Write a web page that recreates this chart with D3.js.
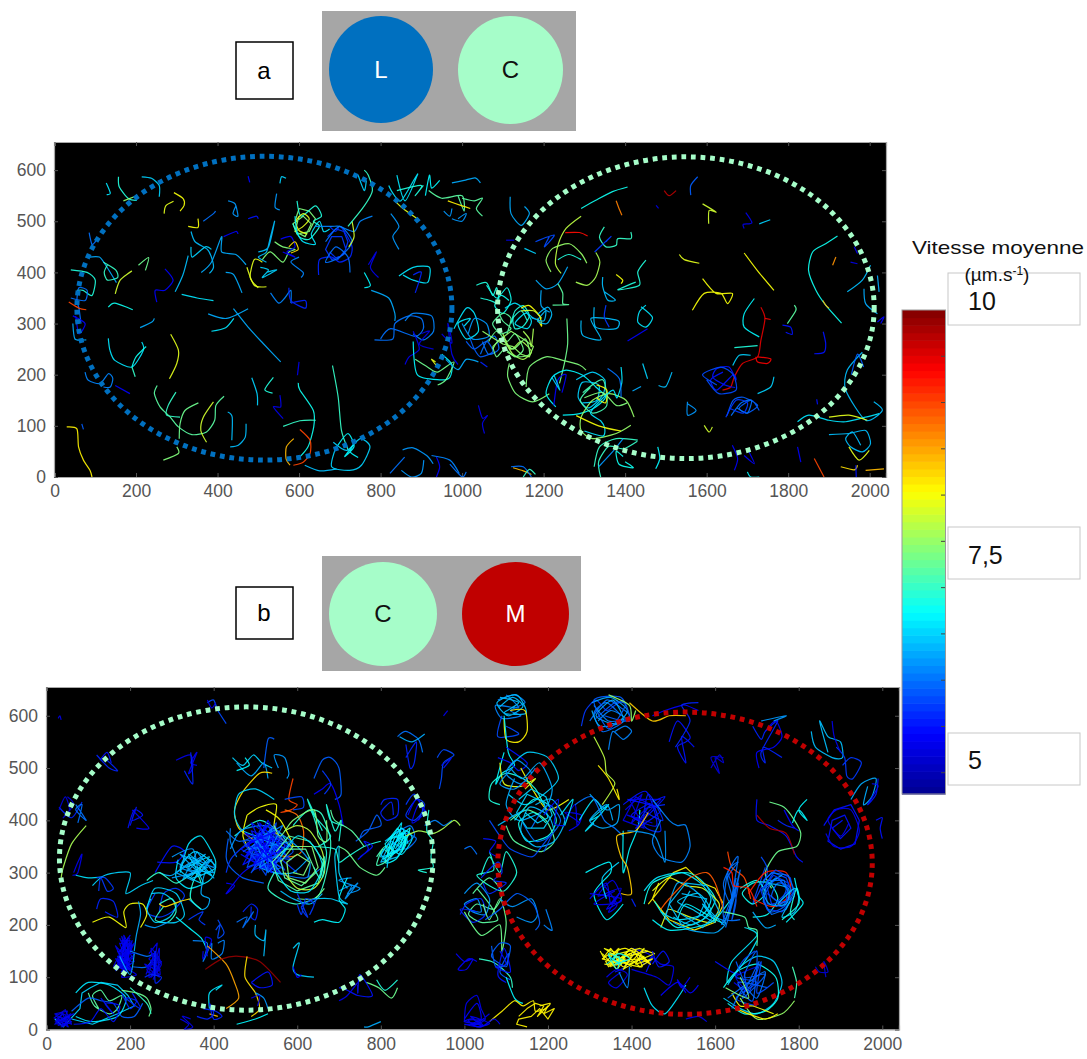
<!DOCTYPE html>
<html><head><meta charset="utf-8">
<script src="https://cdn.jsdelivr.net/npm/d3@7/dist/d3.min.js"></script>
<style>html,body{margin:0;background:#fff}svg{display:block}text{font-family:"Liberation Sans",Arial,sans-serif}</style>
</head><body><svg id="c" width="1087" height="1059"></svg>
<script>
const xTicks=[0,200,400,600,800,1000,1200,1400,1600,1800,2000];
const yTicks=[0,100,200,300,400,500,600];
const barTicks=[5,5.5,6,6.5,7,7.5,8,8.5,9,9.5];
const jetValues=[4.77,5.42,6.73,8.04,9.35,10];
const jetColors=["#00008f","#0000ff","#00ffff","#ffff00","#ff0000","#800000"];
const ellipsesA=[{cx:515,cy:330,rx:460,ry:297,color:"#0070c0"},{cx:1549,cy:331,rx:462,ry:295,color:"#a6fdc9"}];
const ellipsesB=[{cx:478,cy:327,rx:447,ry:290,color:"#a6fdc9"},{cx:1528,cy:318,rx:448,ry:289,color:"#c00000"}];
// each track: mean speed, then x,y pairs in micrometres
const tracksA=[
[8.1,30,98,55,94,59,59,71,33,87,13,92,0],[5.9,67,104,71,93],[6.6,132,271,136,248,148,228,190,215,218,248,214,264],[7,190,215,198,196],[6.8,190,215,200,235,225,255],
[7.9,285,279,304,248,300,222,282,192],[6.3,439,329,475,293,512,261,555,225],[6.3,377,319,422,310,475,329],[6.6,385,285,420,292,440,310],[6.4,328,433,315,395,296,362],[6.6,312,357,350,350,390,345],
[6.8,132,332,148,340,192,327],[6.3,210,292,239,303,245,310],[7.8,149,358,161,385,190,403],[7.3,206,414,231,429,223,404],[5.4,271,407,291,385,271,365,247,365,251,342],
[6.9,40,405,80,400,100,385,92,355,70,365,55,365],[6.3,85,430,110,430,125,415,152,380],[7,120,420,150,405,155,390,130,385,122,400,130,415],[6,40,350,75,345,80,365,60,370,55,345,60,330,65,300],
[9,35,342,60,330,78,327],[5.4,45,315,75,300,60,280,52,315],[6.3,45,300,50,270,70,268,78,268],[6,85,478,92,455,102,462],[6.1,75,205,83,189,112,183,132,202,143,193,137,176,120,176],[5.4,149,179,185,163],
[7.2,252,179,245,163,259,137,284,117,304,98,337,83,373,88,393,111,396,140,416,158],[7,298,166,279,140,275,121,308,117],[7.3,353,145,320,130,308,104,306,75],[7.8,390,147,365,117,359,91,373,68],[6.4,425,127,436,117,435,72],[6.4,470,104,468,78,451,62,431,59],[7.4,267,33,304,46,300,59],
[6.5,484,194,497,163,498,140],[6.9,537,195,516,171,535,164],[5.3,553,160,555,137,537,137,561,114],[5.3,600,225,596,199],[6.8,598,184,602,170,635,130,636,98,622,59,598,36],[7,561,99,602,110,641,111],[9,602,93,627,72,627,46,610,29,586,23],[8.4,587,75,569,59,568,36,578,23],[6.4,614,23,651,12,692,16],
[7,682,218,696,156,704,91,721,52],[6.5,691,59,680,20,724,13,753,23,774,59,750,75,717,52,684,68],[6.7,695,62,720,85,735,60,712,40,740,70,725,50,745,38],[6.2,854,53,880,57,913,42,929,26],[6,823,7,859,39],[6.2,851,13,876,0,900,7,906,33],[6.1,925,42,970,33,993,7],[5.4,937,39,945,20,937,0],
[6.6,127,575,137,555,128,552],[6.9,157,587,159,567,182,544,202,541],[7.5,169,540,202,550],[6.5,214,587,238,584,257,570,257,548],[7.9,269,515,273,530,292,539],[8,293,556,316,544,318,531,308,520],[5.4,475,588,479,576],[6.5,553,574,557,587,568,584],[6.2,545,554,541,528,553,522],[6.2,426,540,443,534,450,510,438,515,445,530],
[5.5,475,505,495,510,500,505],[6,365,500,390,515,395,520],[8,328,490,352,488,352,505],[6.4,335,480,345,460,375,445,385,430,390,410,380,398],[6.5,335,450,338,430,370,450,385,445],[6.3,360,400,385,420,410,470,410,440,445,435,470,415],[5.4,415,470,445,480,450,475],[6.3,420,400,440,395,460,360],
[6.4,500,440,525,450,540,500,530,470,520,440,500,430,520,420],[7.4,510,425,530,440,560,420,575,440,590,445,560,450,540,460],[7.9,472,410,490,375,520,372],[7.9,510,420,490,425,480,390,500,370],[6.5,505,410,525,405,510,390,545,405,520,400],[6.1,530,360,550,340,565,350,580,365,580,340],[5.6,575,370,580,345,615,330,615,345,580,340],
[7.4,590,500,600,525,625,520,640,505,625,480,595,475,585,495,610,510,630,495,615,470,590,480,600,510],[6.9,595,540,605,510,640,530,655,510,635,500,650,490,625,465,600,470,585,495],[7.9,590,480,610,490,625,505,610,515,592,500,600,482,620,475],[6.6,590,510,595,480,610,460,640,455,630,475,650,500,660,480,675,485],[5.4,555,465,580,470,590,450,570,440,590,430,560,440],[8.2,575,450,590,460,598,445,580,438],
[5.7,670,470,690,485,710,480,720,460,710,435,680,425,665,445,680,470,705,470,715,445,695,425,675,440],[5.6,675,490,690,480,700,490,715,475,730,450,725,430,700,420,680,430,650,425,648,395],[6,665,460,700,490,730,460,700,430,665,420,690,450,720,430,725,400],[6.1,640,490,680,490,700,490,735,480,750,500,780,510],[7.8,730,500,735,470,722,450],[6.1,600,430,580,420,610,400,605,390],[7,720,490,760,530,780,560,770,590,760,600],
[6.5,745,590,760,560,765,580],[7.9,835,540,855,525,890,505],[6.6,820,570,830,555,850,540,885,585,890,590,860,540,840,590],[6.9,840,560,900,570,885,550,905,570],[6.7,910,550,920,590,925,565,945,580],[7.2,918,560,950,545,1000,550,1005,520,990,550],[6.3,975,575,1005,580,1032,585,1045,575],[8.1,965,540,1000,530,1020,525],[7.2,1000,545,1030,540,1050,545,1035,525,1050,510],
[6.2,955,520,970,510,975,525],[6.2,975,505,1000,500,1010,515,990,505],[6.2,825,515,845,490,830,470,845,445],[5.3,770,415,790,440,775,410,795,390],[6.7,760,400,775,375,760,370],[6.6,845,393,880,410,920,410,915,380,880,385,855,395],[5.6,880,395,900,400,885,360],[6.3,777,365,820,350,835,320,835,305],[6,785,268,830,270,835,300,870,315,900,310,905,290,885,275,825,290,800,270],
[6.1,860,305,880,320,925,315,930,285,905,268,880,280],[5.3,880,285,895,250,870,235,860,220],[6.7,880,265,890,200,945,190,970,195,975,220,950,240],[7.3,885,230,915,215,940,205,980,225,960,190,940,180],[5.2,900,280,920,285,895,260,930,250],[7.9,935,225,925,230,940,215],[5.3,950,280,975,262,965,300,975,240,990,220],[6.3,960,230,990,210,1010,230,1040,225],[5.6,1045,225,1062,215],[5.3,1040,140,1050,115,1062,120,1050,105,1055,85],
[6.6,980,290,1010,330,1030,320,1040,285,1010,270,990,300,1020,310,1005,295],[6.2,1000,300,1025,270,1065,275,1060,300,1030,310,1015,280],[5.9,1010,265,1030,250,1060,265,1075,245,1045,235,1030,250,1020,270],[6,1045,240,1060,265,1080,275,1090,250,1065,240,1050,265],
[6.9,1035,375,1060,380,1075,355,1085,370,1090,340,1070,345,1045,350],[6.8,1060,375,1085,350,1110,370,1120,345,1100,320,1080,335,1095,355,1115,345],[7.2,1085,330,1100,305,1120,290,1095,280,1075,300,1100,320,1120,310,1110,280],
[7.5,1050,285,1080,270,1100,260,1125,255,1145,240,1165,235,1175,255,1150,270,1120,285,1095,270,1075,255],[7.3,1065,265,1085,285,1110,265,1130,280,1150,250,1130,235,1105,250,1085,235,1075,255],[7.6,1100,280,1120,250,1145,265,1170,245,1150,230,1125,240,1105,265],[7.4,1075,250,1095,270,1125,250,1155,270,1165,240,1135,235,1110,245],
[6.9,1120,300,1130,325,1150,335,1165,315,1150,295,1130,290,1125,310,1145,325,1160,305],[6.6,1105,330,1130,340,1155,325,1170,305,1160,290,1130,300,1155,320,1175,310],[8,1145,330,1165,335,1190,315,1195,295,1185,310],[7.6,1150,285,1165,270,1170,255,1175,290],
[6.3,1118,548,1120,515,1145,492,1165,515,1153,529],[5.2,1108,463,1128,463],[6.5,1153,447,1181,437],[5.8,1180,460,1226,473,1202,450,1214,470],[6.8,1292,525,1328,541,1369,558,1406,567],[8.7,1378,540,1384,527,1392,512],[9.3,1253,478,1288,478,1308,471],[7.7,1292,510,1255,486,1235,453,1229,417,1243,398],[7.5,1218,401,1206,424,1222,447,1263,456,1292,437,1306,418],[7.6,1279,381,1308,375,1328,391,1338,420,1328,439],
[6.9,1235,425,1262,435,1292,425],[6.3,1181,385,1206,368,1235,378,1259,411],[6.3,1194,365,1194,335,1215,322],[7.2,1235,378,1247,359,1247,339,1261,337,1222,336],[7.3,1257,310,1259,261,1251,222,1239,183],[6.4,1185,318,1210,332,1220,318,1208,300,1185,305,1205,325,1200,305,1170,312],[7.8,1145,325,1175,325,1195,310],
[7.4,1116,222,1112,196,1132,163,1173,147,1214,163],[7.4,1157,176,1165,215,1206,235,1247,228,1288,219,1304,209],[6.7,1230,137,1206,163,1222,196,1255,209,1296,199,1328,176,1352,157,1328,137,1288,124,1247,121],[6.5,1280,190,1320,205,1350,190,1345,160,1310,135,1285,155,1295,185,1335,180,1330,150,1295,145],[7.5,1422,117,1402,150,1361,163,1320,150,1292,117,1292,91,1320,75,1378,85,1414,101],[7.1,1296,165,1345,190,1355,140,1320,125,1290,150,1315,175],[5.4,1225,140,1235,190,1255,200,1245,165],[8,1330,180,1355,170,1352,145,1330,155],[7.4,1300,155,1345,165,1378,140,1405,145],
[6.6,1390,215,1392,185,1380,155,1370,170,1340,150,1315,125,1340,110,1350,95,1345,80,1300,90],[7,1324,20,1337,59,1378,75,1431,72],[7,1340,0,1335,30,1360,60,1395,55,1430,70],[6.8,1395,40,1378,50,1385,25,1420,18,1400,30],[6.2,1335,20,1370,50,1395,75],[8,1280,120,1335,100,1390,90],[6.5,1220,195,1240,170,1225,200],[6,1357,212,1386,192,1390,156],
[7.9,1533,435,1545,425,1582,418],[8,1692,438,1725,403,1765,365],[8,1590,388,1623,359,1663,359,1651,339,1635,359,1594,359,1565,326],[6.7,1717,349,1692,319,1692,293,1729,274],[7.2,1815,336,1819,326,1798,300],[5.5,1786,297,1806,293,1810,279,1794,283],[5.5,1864,241,1888,244,1892,261,1886,284],[6.9,1668,253,1725,257],[6.5,1664,218,1680,238,1708,238],
[9.5,1733,332,1743,310,1733,267,1725,235,1688,222,1668,196,1659,176,1639,170],[9.4,1725,235,1757,231,1749,222,1725,225,1721,235],[9.4,1757,308,1743,310],
[5.5,1640,205,1610,190,1625,170,1665,200,1672,190,1655,215,1625,212,1615,195,1645,180,1670,175],[5.8,1600,190,1630,163,1672,170,1665,200,1635,215,1590,200,1625,180],[5.9,1650,120,1665,150,1690,156,1725,140,1700,125,1680,135,1710,150,1729,130],[6,1660,120,1685,145,1710,150,1700,125,1675,135],[5.7,1647,117,1672,150,1700,145,1690,125,1655,135],[6.5,1725,163,1757,176,1765,196],
[6.2,1553,147,1553,121,1574,130,1553,143],[7.8,1594,101,1606,88,1614,98],[5.9,1561,551,1561,570,1578,587],[7.8,1590,534,1623,518,1606,521,1605,495],[5.3,1696,517,1711,497,1690,494,1692,486],[6.5,1729,495,1756,503],[9.7,1496,560,1508,550,1525,560],[5.3,1476,531,1482,525],
[6.8,1921,471,1892,456,1860,440,1850,404,1868,365,1892,336,1931,301],[8.6,1917,430,1909,414],[8.4,1885,345,1892,336,1900,330],[6.9,1451,424,1431,401,1435,375,1382,366,1426,381],[8,1378,396,1394,385,1390,378],[6.4,1345,391,1345,372,1357,346,1376,346,1349,362],[6.6,1439,333,1467,312,1451,293,1431,303,1435,323,1451,336],[7,1349,489,1337,469,1353,450,1378,453,1382,466,1414,466,1414,479],[5.7,1325,440,1365,470,1353,460],[6.4,1292,306,1296,277,1341,269,1316,310,1382,306,1378,290,1328,293,1324,332],[5.7,1353,336,1349,313,1361,293],[5.4,1406,266,1455,290],[6.5,1443,222,1455,192],[6.3,1418,168,1439,177],[6.4,1482,179,1500,177,1515,205],
[6.4,2010,147,2031,130,1990,111,1941,170,1945,209,1982,244],[6.6,1823,108,1851,121,1900,111,1941,108,1990,117,2023,124],[7.9,1900,117,1949,121,1994,111],[6.4,1900,83,1949,85,1990,91,2002,65,1982,49,1953,59,1941,75,1958,88,1978,62],[7.9,1949,59,1974,33,1999,52],[8.2,1929,20,1962,14,1970,23],[8.4,1990,13,2035,16],[5.5,1966,23,1967,0],[9,1864,36,1888,0],[5.4,1823,59,1831,29],[5.4,1663,62,1676,36,1668,13],[5.4,1692,42,1717,26,1704,49],[6.7,1700,10,1708,0,1729,0],[6.7,1475,16,1485,36,1480,59],
[6.3,2019,394,2023,362],[6.4,2002,414,1982,385,1945,362],[6.3,1986,368,1990,339,2019,319],[5.4,2019,303,2035,313,2027,300],[5.4,1962,450,1970,437],[5.3,1953,420,1970,417],[5.5,1870,152,1872,142],[5.9,1955,200,1970,240,1985,215],
[8.4,1125,18,1150,12,1170,5],[6,1120,20,1150,20,1170,0],[7,1150,0,1165,15,1180,5],[6,970,25,1000,0,1010,10]
];
const tracksB=[
[5.3,28,595,32,600,35,592],[5.8,385,625,400,630,410,610,430,585],[5.3,385,630,395,615,405,625],[5.6,120,525,150,500,170,495,145,515],[5.5,128,515,145,530,155,510],[5.3,310,515,345,525,350,500,340,490,360,530,345,510,360,505],[5.6,330,495,350,470,345,530],
[5.6,30,425,60,405,85,435],[5.2,30,420,45,445,55,420,40,405,65,430,50,445],[6,70,430,95,400,70,420,85,430,75,395],[5.5,195,385,210,420,230,410,205,400,215,425,200,390],[5.4,205,420,245,385,215,385],[7.6,95,390,60,355,40,310,35,290],[5.3,65,300,75,320,85,335,75,300,62,295],[6.6,70,295,100,290,135,292],
[6.5,445,520,470,505,495,525,515,510,540,500],[6.3,455,510,490,485,520,510,530,480],[6.7,455,495,485,505,475,520],[5.9,520,500,530,555,545,555],[6.2,555,500,545,525,570,520,580,490,575,480],[5.9,640,480,660,515,680,520,700,500,705,450,690,440],[5.4,640,450,660,460,680,470,700,430,710,390],[5.7,660,495,680,470,665,450],
[8.2,540,490,510,490,470,455,450,420,460,385,500,360],[6.5,545,440,500,460,460,450,450,410,470,380,530,365,535,380],[8,480,410,510,425,550,430,545,380,590,350,560,400,525,420],[8,480,410,470,370,490,340],[6.9,450,370,510,400,560,375,580,350],[9,590,480,580,440,600,430,585,420,560,415],[8.8,570,420,600,410,615,380,610,340,580,330,530,340],[5.8,570,440,610,445,615,425,590,420],
[6.1,440,385,440,360,455,330],[6,430,380,460,360,500,370],[5.9,435,365,430,330,440,310,470,290,520,280],[5.7,430,300,445,330,500,365,540,340,600,300],[6.2,440,345,465,380,520,390,560,375,600,350,630,320,625,290],[5.4,430,280,450,275,430,260,470,300,505,315,560,300],
[5.3,490,345,530,350,480,320,540,370,510,305,535,385,560,320,500,375,555,345,485,325,545,310,520,380,490,360,555,365,480,340,540,320],[5.6,500,350,560,340,520,310,510,380,570,360,490,330,530,390,550,300,505,330,570,340],[5.8,500,320,570,350,530,370,500,340,560,310,530,310,590,340,550,370],[6,500,320,530,305,570,295,620,290,660,310],[6.3,510,310,545,300,590,300,630,330],
[5.5,530,345,480,350,535,395,475,330,550,385,465,345,545,305,490,395,560,355,470,315,530,400,575,330,495,305,520,345,580,350,490,380,540,300,465,335],[5.8,525,350,490,300,565,370,470,360,525,295,550,395,495,335,585,325,510,375,480,310,555,335,505,395,570,305,490,350,540,375,470,340],[6.1,515,340,560,300,495,370,575,345,510,310,540,385,485,345,590,360,530,300,500,360,565,390,520,320],[5.4,540,330,505,365,555,380,480,355,530,320,510,395,565,345,495,315,535,360,475,375,550,315],
[7.2,550,340,580,370,630,360,665,320,650,280,600,265,555,285,540,320,570,345,620,345,645,300,610,275,570,290,560,325],[7.4,560,320,590,350,635,350,650,310,620,280,580,290,575,320,600,335,630,320,615,295,590,300],[7.7,570,300,600,270,640,270,665,300,660,340,630,380,600,390,570,380],[7,545,300,530,270,560,250,600,240,650,255,670,300,680,360,660,410,640,420],[6.9,590,390,630,420,650,380,670,340,660,290],[7.3,600,250,640,250,665,270],[6.4,560,265,590,250,630,240,660,260],[6.6,560,330,600,370,640,350,660,310,630,265,585,265,550,300],[6.9,650,350,680,370,640,410,625,440,660,380],[7,640,310,655,290,665,330,655,300],
[7.4,545,390,560,370,590,400,640,420,650,370,670,360,670,400],[5.7,600,240,610,220,620,250,640,240,630,220,645,250,610,235,625,215,600,260],[6.5,640,250,680,250,720,240,700,255,690,330,700,350,700,300,720,270],[6.2,700,265,730,275,715,250,745,280,720,260,750,270,700,285,730,290],[6.9,640,350,690,345,700,320,720,330,760,350,800,360],[7.3,700,350,720,340,750,310,790,295,810,310],[6.7,720,290,700,250,715,230,700,205,660,210,640,205],[6.9,700,360,705,400,690,380,670,430,680,400,710,390],
[5.9,740,360,770,380,790,410,800,390,760,380,750,365],[7.2,680,420,690,400,730,380,760,350],[5.5,750,330,780,350,760,360,770,345,745,325],[5.6,800,430,810,440,840,440,840,410,815,400,800,415,825,435,830,410],[6,835,375,870,390,880,370,850,350,825,340,850,375,885,365,860,345,825,360],[6.4,810,360,850,385,870,375,845,350,815,320,800,335,830,370,860,360,840,330,800,320,815,345,845,365],[6.7,805,325,830,345,845,375,860,355,835,325,810,320,830,360],[7.1,790,330,810,350,830,340,810,320,790,315,805,345,825,330],[6.6,830,370,850,395,840,360,855,380,825,345],[6.8,840,350,860,370,850,340,870,385,845,365],[6.5,820,345,815,310,820,355,800,330,850,345],[6.7,815,360,840,385,860,365,840,340,815,330,825,365,855,375,845,345,820,335,810,355,835,375],[6.6,835,345,860,380,875,365,850,335,825,350,850,385,865,355],[5.7,860,430,880,450,900,420,880,400,860,410,885,440,905,430,890,400],[5.4,865,410,885,440,905,415,875,395,890,430,910,415],[6.1,905,390,930,400,950,390,970,400],
[7.6,860,370,890,380,925,375,950,385,975,400,990,390],[6.9,915,420,910,380,925,360,920,330,925,310,890,305,910,300],[6,840,560,860,570,890,555,900,530],[5.6,860,545,870,500,880,510,885,550,860,520],[5.8,935,520,950,535,975,525,950,510,945,480,940,460],[5.5,945,505,970,520,950,500],[5.3,950,600,960,610],[6.3,845,560,875,550,905,565],[7.3,765,90,795,80,825,60,840,80],
[6.5,110,275,140,295,200,300,190,260,225,275,255,285],[5.7,120,290,140,290,160,270,145,265,130,290,125,265],[5.5,260,300,300,350,330,340,310,320,265,320],[6.6,320,300,340,355,370,370,395,340,405,320,400,295,380,280,340,270,310,290,315,325],[6.2,300,330,350,345,365,300,390,325,400,310,340,330,320,310,350,300,300,290],[6.3,270,300,300,295,350,320,400,290,380,300,370,260,390,250,385,235,370,230,340,250],[7,240,285,270,300,310,280,355,300,370,280],[6.9,370,310,350,280,345,250,370,230],
[6.3,310,320,370,295,320,335,385,310,330,290,395,325,350,285,310,300,380,335,340,305,400,300,360,340,325,285],[6.5,335,310,390,330,345,290,405,310,355,340,320,305,375,280,340,335,395,295,350,315],
[5.7,270,225,280,260,310,270,330,255,300,225,270,215,240,225,260,260],[6.5,250,260,280,260,310,240,295,215,260,205,240,230,250,250],[7,270,240,300,250,310,225,290,205,260,210,280,235],[6.5,240,230,260,270,310,260,330,220,310,205,270,205],[8,110,205,150,215,190,195,185,225,200,240,230,240,240,220,225,195],[8.2,270,240,285,235,320,245,345,250],[6.3,220,245,225,220,215,180,210,150],[6.7,310,215,340,195,370,175,385,150],[5.6,120,230,130,250,160,245,170,215,140,225],[6.2,235,200,260,195,290,205],
[5.4,195,145,180,170,200,170,185,120,195,155,175,135,205,150,185,180,195,115,170,140,200,125,178,110],[5.2,175,150,200,165,185,130,205,140,180,120,195,110,170,125,200,175],[5.3,160,120,195,175,170,115,205,160,175,165,195,125,165,135,210,130,180,178,200,112,170,150,210,145,185,110],[5.3,175,175,200,130,165,160,190,115,205,170,172,125,200,150,180,140,210,165,185,125,165,112],[5.4,185,160,200,180,175,145,205,115,170,130,195,135,190,170,178,118,206,128],[6,200,150,240,140,260,145,240,120,205,120],[5.3,240,110,265,110,270,155,260,130,250,150,265,115,235,125,270,100,250,130],[5.3,245,145,265,165,255,105,275,130,240,120,268,140,250,100,272,115,245,135,262,150,238,105],[5.2,255,95,270,135,240,115,265,105,250,155,275,125,245,100,260,145,272,105,252,120],[5.6,235,100,250,105,275,100,260,90,260,150],[5.3,165,120,190,115,180,100,215,105,170,125],[6.3,175,140,200,105,210,145],[6.1,350,170,385,165,375,130,395,165,395,135,420,145,425,170,410,165],[5.3,375,150,375,135,395,170,380,175,385,140],[5.7,340,210,360,220,375,225,365,210,380,200],[5.6,490,235,490,215,500,210,505,230,490,240,470,225],[6.4,500,200,500,180,520,170,525,190,520,140],[6,455,205,480,215,470,195,495,225,480,205],[5.8,405,190,415,200,410,175,425,185,410,210],[8.5,385,160,430,125,450,90,460,60,430,40],[9.9,380,115,420,135,460,140,510,130,560,90],[8.2,480,140,475,100,500,70,510,40,490,25],[6.2,500,70,520,60,530,40],[6.6,390,40,390,70,420,85,405,75],[8.4,390,30,410,25],[6.7,455,10,500,20,530,30],[5.5,490,90,530,110,540,85,510,80,490,90],[5.3,490,60,510,65,505,45],
[6.5,590,155,605,165,590,120,600,105,640,100],[5.4,590,120,600,100,610,105],[6.9,790,95,810,75,840,95],[5.5,700,80,720,75,745,65,780,65,750,105,745,70,745,85],[5.3,700,55,720,65,745,90],
[6.5,20,20,40,5,80,40,85,70,105,80,130,90,170,85,195,65,210,45,170,30,110,10,60,20],[6.6,70,70,100,90,150,85,190,60,170,25,110,15,70,25],[7.2,100,70,115,45,150,30,170,40,180,65,150,55,130,75,110,65,125,40],[5.9,60,35,100,60,130,55,160,50,180,25,210,25,230,50],[5.6,180,70,200,40,215,55,190,60,225,40,205,70],[7.3,180,75,215,70,240,60,250,40,245,25],[7,200,80,240,50,250,30],[5.5,130,60,160,30,140,50,175,45,160,15,130,40,105,15,65,10],
[5.2,20,15,40,30,60,20,40,10,20,30,50,35,35,5,60,15,30,25,25,10,55,25],[5.3,22,30,50,12,28,8,58,30,35,18,18,22,45,38,60,10,25,20,52,5,38,32,20,10,48,25],[5.4,40,5,55,25,65,30,40,20,25,15],[5.6,360,25,385,20,400,30,390,50,400,20,420,25,405,35,375,40],[5.3,320,20,340,10,330,0,350,5,325,25,345,20],[6.3,760,5,770,5,800,15],[5.4,1000,20,1030,50,1040,20,1015,10,1040,5,1020,20,1000,15,1040,10,1000,10],[5.3,1005,15,1045,8,1015,25,1060,12,1030,5,1010,18,1050,18],
[6.9,1040,295,1060,330,1085,300,1100,340,1125,300,1095,265,1060,275,1030,295,1070,305,1060,340],[7.2,1020,260,1060,290,1090,260,1070,230,1030,240,1010,220,1040,205,1080,210,1060,240,1030,270],[6.2,1000,260,1030,280,1060,250,1050,220,1020,225,1000,240,1030,250,1040,225,1010,230],[5.6,1040,290,1080,320,1090,300,1070,285,1100,280,1060,260,1045,280],[5.6,990,220,1005,240,1040,250,1050,220,1020,205,990,230,1030,225],[6,1000,345,1015,350,1030,335],[7.3,1000,225,1040,180,1085,200,1090,150,1100,205,1085,250,1060,210,1045,240],[6.2,1085,250,1115,235,1160,250,1175,220,1160,205,1125,215],[5.9,1050,210,1085,230,1125,260,1165,240,1180,205,1170,190],[6.1,1190,200,1210,190,1195,230],[5.5,1045,365,1075,360,1060,340,1080,330],[7,1035,135,1065,130,1085,120,1110,100,1115,80],
[5.9,1065,160,1075,120,1100,125,1110,160,1085,165,1065,140,1100,120,1105,145,1085,110,1110,95],[5.5,1085,150,1100,125,1075,120,1110,110,1095,155,1080,105,1100,90],[5.4,980,145,1000,130,1020,135,1005,115,985,115,1010,135,1030,130],[6.7,1100,100,1120,60,1140,50],[8.1,1130,25,1150,40,1170,50,1190,45,1175,25,1200,45,1190,30,1215,40,1200,20,1180,40,1160,25,1130,20,1125,10,1150,5],[8.1,1060,15,1090,35,1120,55,1140,45,1165,55,1170,35,1195,40,1205,50,1180,45],[5.3,1000,15,1005,50,1030,65,1040,40,1050,20,1030,10,1060,30],[5.4,1000,10,1040,5,1070,20,1085,10],
[6.1,1080,630,1120,640,1145,625,1110,610,1135,600,1090,595,1075,620,1130,615,1100,640],[6.4,1082,615,1115,635,1140,618,1105,600,1078,625,1125,640,1148,605,1095,605,1130,625,1085,635],[5.8,1090,600,1080,560,1130,565,1100,580],[8.1,1095,595,1100,555,1130,550,1150,570,1145,610,1110,610],[6.7,1095,600,1105,530,1120,505,1090,490,1075,470,1095,530],[5.5,1080,520,1110,510,1130,495,1150,510,1100,540],[7.9,1085,510,1095,470,1135,465,1170,480,1145,460],[8,1135,500,1170,450,1200,420,1250,440],[6.5,1105,500,1150,530,1200,520,1225,480,1190,450,1145,430,1105,450],[6.9,1085,430,1060,440,1065,470,1100,490,1140,480,1170,460,1190,430],[6.3,1110,500,1140,480,1180,510,1210,460,1190,420,1130,400,1100,430,1120,480],[7.2,1110,400,1150,420,1195,400,1215,360,1180,340,1120,360,1100,390],[6.8,1120,400,1165,440,1200,430,1220,400,1200,370,1150,360,1130,395,1165,415,1195,395],[6.4,1170,430,1210,440,1240,400,1215,360,1170,350,1135,380,1155,425,1200,410,1215,380],[6,1160,385,1200,430,1230,400,1205,370,1170,360,1140,395],[6.5,1130,440,1160,460,1195,445,1210,410,1190,385,1150,385,1125,415,1150,450,1190,435,1200,405,1175,395,1145,415],[6.2,1115,500,1085,470,1120,460,1160,490,1125,515,1100,490,1135,470,1170,500],[5.8,1060,400,1085,370,1110,345,1160,330,1180,345,1210,375,1190,340],[6.4,1080,390,1120,410,1145,420],[5.5,1190,410,1225,440,1215,395,1240,390],[5.4,1240,400,1265,430,1270,390,1280,410,1240,415,1275,395,1250,380],[6.6,1230,410,1260,440,1240,390],
[7.7,1310,560,1335,520,1340,490,1360,470,1330,430],[8.1,1320,505,1345,480,1370,440,1365,460],[6.6,1275,400,1310,440,1330,415,1300,400,1345,430,1290,380,1310,395],[6.3,1300,450,1340,420,1370,430,1365,395,1330,385,1300,400,1340,430,1355,400],[6,1265,430,1305,445,1335,400,1360,385,1380,370],[5.7,1280,580,1290,610,1315,630,1340,610,1360,620,1380,630],[6,1300,590,1340,630,1375,615,1395,600,1365,580,1330,570,1310,605,1340,625,1375,600],[6.1,1310,620,1345,590,1385,595,1350,610,1320,590],[6.3,1305,625,1350,635,1390,610,1360,585,1315,600,1355,630,1380,590,1325,580,1305,610],[5.9,1315,595,1360,625,1385,620,1345,575,1310,630,1375,635,1395,590,1335,600],[7.5,1345,640,1395,620,1400,590,1410,610],[6.1,1360,570,1385,580,1400,570,1380,555,1355,570,1345,535],[8.3,1395,625,1450,590,1490,600,1530,600],[5.4,1450,600,1480,610,1520,620,1530,620,1560,610],
[5.5,1490,550,1510,590,1540,560,1530,550,1510,540,1530,510,1520,560,1550,540],[5.6,1505,540,1540,590,1520,620,1560,625],[5.2,1590,500,1610,525,1620,510,1600,520,1610,490,1590,520,1620,520],[5.6,1690,580,1710,555,1720,570,1750,590,1710,530,1720,510,1715,540,1760,520],[5.4,1705,500,1700,530,1740,540,1760,560,1745,590,1720,570],[6.2,1740,590,1770,600,1710,590],[6.4,1830,570,1840,540,1880,520,1905,520,1900,550,1870,560,1850,590,1870,530],[5.7,1890,540,1910,520,1915,485,1930,480,1950,510,1925,520,1905,505],[5.3,1880,590,1885,560,1900,530],[6.3,1925,440,1950,470,1985,480,1975,445,1955,430,1965,465],[5.5,1975,470,1990,465,1965,430,1985,450,1990,480],[5.4,1765,420,1785,390,1800,380],[5.5,1985,400,2000,405,1995,385,2000,365],
[5.5,1860,390,1885,420,1925,430,1945,400,1935,355,1900,345,1870,360,1880,400,1910,410,1925,385,1900,365,1880,385,1905,400],[5.3,1865,375,1885,350,1925,350,1945,380,1925,420,1890,420,1870,400,1900,370,1920,395],
[6.7,1420,420,1415,385,1395,345,1380,300,1380,380],[5.6,1415,395,1450,430,1470,380,1430,390,1440,450,1475,400,1430,420,1480,430],[5.3,1385,420,1425,450,1400,395,1445,430,1410,445,1380,400,1430,385,1395,440,1470,440,1420,400,1390,410,1450,395],[5.5,1390,440,1470,420,1410,385,1480,445,1400,410,1460,390,1435,455,1380,430],[6.1,1450,440,1490,400,1510,390,1530,390,1540,350,1520,320,1470,330,1450,360,1470,400],[8.3,1440,415,1410,380,1365,370,1375,330,1390,310,1400,260,1375,260],[6.2,1390,380,1455,370,1480,320,1480,380],[6.7,1290,300,1345,320,1350,300,1310,260,1340,210,1380,240],[5.4,1300,250,1340,280,1350,240,1370,260,1340,230,1375,250,1300,260],[5.3,1330,280,1365,240,1345,225,1375,270,1320,255,1355,285,1375,245,1310,240,1360,265],[6.5,1370,320,1330,290,1340,250],[5.6,1400,250,1410,235],
[5.5,1700,440,1700,400,1730,390,1770,370,1795,330,1810,320],[9.8,1700,410,1730,385,1770,375,1790,335],[7.3,1730,435,1765,425,1790,400,1805,375,1795,350,1750,340,1720,300,1735,270],[6.7,1820,440,1800,420,1820,400,1800,420,1785,395],[5.6,1750,400,1770,390,1790,385],[9,1630,340,1640,310,1670,290,1685,250],[5.8,1710,330,1725,300,1690,240,1720,310],
[8.1,1440,240,1500,300,1530,310,1570,280,1600,270,1620,240,1600,205,1550,190,1490,210,1450,250,1465,280],[6.8,1430,240,1450,280,1520,300,1560,290,1600,250,1570,210,1510,195,1480,215,1455,245],[7.9,1450,265,1490,290,1530,275,1570,270,1610,240,1590,205,1540,215,1490,230,1480,215,1470,195],[6.6,1430,265,1460,290,1520,300,1565,280,1590,250,1570,220,1510,210,1470,225],[6.3,1480,210,1510,280,1560,260,1590,220,1625,205,1600,185,1540,190,1500,205],[6.7,1450,210,1490,190,1550,195,1600,210,1640,250,1620,205,1580,220,1530,240,1510,210],[8.9,1620,230,1600,280,1580,300,1540,290,1490,250,1470,230],[6,1620,200,1640,250,1630,290,1655,320,1630,300,1620,215,1660,210],[5.9,1630,300,1650,250,1640,210,1655,280,1615,200],[6,1625,195,1650,265,1635,225,1660,305,1640,240,1620,280,1655,330,1630,210,1650,290],[6.4,1520,260,1580,250,1560,215,1520,200,1490,240,1530,280,1580,275,1610,225,1570,195,1510,225,1540,265],[6.5,1500,215,1545,200,1590,225,1560,260,1510,245,1545,230,1600,205,1570,240,1620,200],
[6.8,1660,270,1700,285,1720,260,1690,240,1665,260,1690,280,1730,280,1750,250,1725,220,1690,215],[9.2,1680,260,1720,300,1770,300,1780,260,1740,235,1690,250],[5.8,1710,265,1740,300,1770,290,1785,260,1760,235,1725,240,1720,270,1750,290,1775,265,1750,245,1725,260],[5.9,1720,260,1745,290,1770,270,1755,245,1735,255,1750,280,1780,270,1765,235,1730,225,1715,250],[6.3,1725,280,1775,270,1770,240,1730,240,1715,270,1760,295],[5.7,1715,285,1745,305,1780,290,1790,255,1760,225,1725,230,1710,265,1740,295,1775,280,1770,245,1735,240,1725,270],[6,1705,275,1735,300,1775,295,1790,265,1770,230,1735,220,1715,245,1725,285,1765,285,1780,250,1745,235],[6.4,1750,240,1790,270,1800,250,1790,225,1760,215,1780,245],[6.9,1760,210,1800,240,1795,270,1780,225,1790,210],[6.7,1790,290,1800,255,1810,240,1770,205],[7.2,1620,225,1670,215,1680,195,1700,190,1700,160],[6.3,1690,225,1720,195,1745,200],
[9.2,1620,310,1640,300,1645,275,1680,270,1700,235],[6.6,1670,195,1700,180,1640,130,1630,90,1675,135,1700,170],[5.8,1695,150,1665,130,1650,100,1700,90,1650,60,1700,45],[5.5,1600,130,1640,110,1660,105],[5.3,1700,120,1650,100,1680,70,1645,90],[6.5,1620,60,1660,40,1700,30,1740,50,1760,90,1740,130,1700,140,1660,120,1630,85],[6.8,1620,80,1650,110,1700,125,1745,100,1750,60,1720,35,1670,30,1630,50],[5.9,1650,130,1680,80,1705,130,1665,60,1720,105,1670,100,1700,150,1690,55,1655,90,1725,80],[8,1640,70,1660,45,1690,45,1740,30],[6,1630,60,1680,90,1720,110,1700,60,1670,80,1640,40],[5.8,1670,110,1680,70,1710,130,1700,70,1740,90],[7.5,1660,60,1700,20,1760,30,1790,55],[8.1,1650,40,1680,30,1720,20,1750,30],[7.1,1790,60,1795,90,1785,120],[7.4,1625,80,1680,60,1660,100],[5.2,1840,120,1850,110,1870,110,1860,130,1865,100],
[6.6,1430,80,1450,45,1480,30,1510,60,1530,85],[5.3,1530,20,1560,25,1580,15],[5.5,1360,110,1385,120,1410,150,1430,125,1450,140,1435,110],[5.3,1400,115,1460,100,1490,85,1500,120,1470,125,1440,145,1400,155],[5.4,1470,65,1510,90,1540,70,1560,85],[5.4,1540,100,1520,80,1510,95,1530,70],
[8.05,1325,150,1345,120,1370,135,1350,155,1330,135,1375,125,1390,150,1360,125,1400,130,1430,155,1410,125,1450,135,1420,120,1390,140,1440,150],[8.1,1330,135,1355,145,1380,120,1400,145,1360,130,1420,135,1445,125,1400,155,1370,125,1335,125],[8,1330,145,1365,115,1385,135,1345,125,1410,150,1380,115,1430,140,1395,125,1455,145,1420,155,1370,145,1335,155,1400,120],[8.05,1340,130,1370,155,1350,120,1395,145,1375,130,1425,120,1410,145,1440,130,1385,155,1345,140],[6.9,1340,125,1370,140,1365,115,1345,145,1385,130],[6.7,1345,140,1375,125,1355,135,1370,145,1395,135,1360,125],[5.5,1450,125,1475,150,1490,130,1465,120,1450,150],[5.3,1340,100,1365,115,1390,105,1365,80,1345,90,1375,110],[6.1,1370,110,1390,80,1395,120]
];
const svg=d3.select("#c");
const color=d3.scaleLinear().domain(jetValues).range(jetColors);
const smoothLine=d3.line().curve(d3.curveCardinal.tension(.25));
const jagLine=d3.line();
function panel(o){
  const W=o.x1-o.x0,H=o.y1-o.y0;
  const x=d3.scaleLinear().domain([0,2040]).range([o.x0+.5,o.x1]);
  const y=d3.scaleLinear().domain([0,655]).range([o.y1,o.y0]);
  const g=svg.append("g");
  g.append("rect").attr("x",o.x0).attr("y",o.y0).attr("width",W).attr("height",H).attr("fill","#000");
  const cid="clip"+o.id;
  g.append("clipPath").attr("id",cid).append("rect").attr("x",o.x0).attr("y",o.y0).attr("width",W).attr("height",H);
  const fmt=d3.format("d");
  const bottom=g.append("g").attr("transform",`translate(0,${o.y1})`).call(d3.axisBottom(x).tickValues(xTicks).tickSize(-4).tickPadding(8).tickFormat(fmt));
  const left=g.append("g").attr("transform",`translate(${o.x0},0)`).call(d3.axisLeft(y).tickValues(yTicks).tickSize(-4).tickPadding(8).tickFormat(fmt));
  const top=g.append("g").attr("transform",`translate(0,${o.y0})`).call(d3.axisTop(x).tickValues(xTicks).tickSize(-4).tickFormat(""));
  const right=g.append("g").attr("transform",`translate(${o.x1},0)`).call(d3.axisRight(y).tickValues(yTicks).tickSize(-4).tickFormat(""));
  [bottom,left,top,right].forEach(a=>{a.selectAll("path").attr("stroke","#a8a8a8").attr("stroke-width",1.2);a.selectAll("line").attr("stroke","#555");a.selectAll("text").attr("fill","#555").attr("font-size",17.5).attr("font-family",'"Liberation Sans",Arial,sans-serif');});
  const clip=g.append("g").attr("clip-path",`url(#${cid})`);
  clip.append("g").attr("fill","none").attr("stroke-width",1.2).attr("stroke-opacity",.92).attr("stroke-linejoin","round").style("filter","blur(.3px)")
    .selectAll("path").data(o.tracks).join("path")
    .attr("stroke",d=>color(d[0]))
    .attr("d",d=>{const p=[];for(let i=1;i<d.length;i+=2)p.push([x(d[i]),y(d[i+1])]);return (p.length>=11?jagLine:smoothLine)(p);});
  g.selectAll("ellipse").data(o.ellipses).join("ellipse")
    .attr("cx",d=>x(d.cx)).attr("cy",d=>y(d.cy)).attr("rx",d=>x(d.cx+d.rx)-x(d.cx)).attr("ry",d=>y(d.cy-d.ry)-y(d.cy))
    .attr("fill","none").attr("stroke",d=>d.color).attr("stroke-width",5).attr("stroke-dasharray","4.8 4.8");
}
panel({id:"a",x0:54,x1:886,y0:142,y1:477,tracks:tracksA,ellipses:ellipsesA});
panel({id:"b",x0:46,x1:899,y0:687,y1:1029.5,tracks:tracksB,ellipses:ellipsesB});
function header(h){
  svg.append("rect").attr("x",h.rx).attr("y",h.ry).attr("width",h.rw).attr("height",h.rh).attr("fill","#a6a6a6");
  h.circles.forEach(c=>{
    svg.append("ellipse").attr("cx",c.cx).attr("cy",c.cy).attr("rx",c.rx).attr("ry",c.ry).attr("fill",c.fill);
    svg.append("text").attr("x",c.cx).attr("y",c.cy+8).attr("text-anchor","middle").attr("font-size",24).attr("fill",c.ink).text(c.t);
  });
  svg.append("rect").attr("x",236).attr("y",h.by).attr("width",57).attr("height",h.bh).attr("fill","#fff").attr("stroke","#000").attr("stroke-width",1.5);
  svg.append("text").attr("x",264).attr("y",h.by+h.bh/2+8).attr("text-anchor","middle").attr("font-size",24).attr("fill","#000").text(h.label);
}
header({rx:322,ry:11,rw:254,rh:120,by:42,bh:57,label:"a",circles:[{cx:381,cy:69.5,rx:52,ry:53.5,fill:"#0070c0",ink:"#fff",t:"L"},{cx:510.5,cy:70,rx:52.5,ry:54,fill:"#a6fdc9",ink:"#111",t:"C"}]});
header({rx:322,ry:556,rw:259,rh:115,by:587,bh:52,label:"b",circles:[{cx:383,cy:614,rx:54,ry:52,fill:"#a6fdc9",ink:"#111",t:"C"},{cx:515.5,cy:614,rx:53.5,ry:52,fill:"#c00000",ink:"#fff",t:"M"}]});
// colour bar
const barY=d3.scaleLinear().domain([4.77,10]).range([794,310]);
const step=(10-4.77)/64;
const levels=d3.range(64).map(i=>4.77+(i+.5)*step);
svg.append("g").selectAll("rect").data(levels).join("rect")
  .attr("x",902).attr("width",43.5).attr("y",d=>barY(d+step/2)).attr("height",d=>barY(d-step/2)-barY(d+step/2)+.6).attr("fill",d=>color(d));
svg.append("rect").attr("x",902).attr("y",310).attr("width",43.5).attr("height",484).attr("fill","none").attr("stroke","#999").attr("stroke-width",1);
svg.append("g").selectAll("line").data(barTicks).join("line").attr("x1",941).attr("x2",945).attr("y1",d=>barY(d)).attr("y2",d=>barY(d)).attr("stroke","#444");
[273,527,733].forEach(by=>{
  svg.append("rect").attr("x",948).attr("y",by).attr("width",132).attr("height",52).attr("fill","#fff").attr("stroke","#c8c8c8");
});
svg.append("text").attr("x",998).attr("y",254).attr("text-anchor","middle").attr("font-size",19).attr("fill","#111").attr("textLength",172).attr("lengthAdjust","spacingAndGlyphs").text("Vitesse moyenne");
const u=svg.append("text").attr("x",997).attr("y",281).attr("text-anchor","middle").attr("font-size",19).attr("fill","#111");
u.append("tspan").text("(µm.s");u.append("tspan").attr("dy",-6).attr("font-size",12).text("-1");u.append("tspan").attr("dy",6).text(")");
[["10",310],["7,5",564],["5",769]].forEach(([t,ty])=>svg.append("text").attr("x",968).attr("y",ty).attr("font-size",25).attr("fill","#111").text(t));
</script></body></html>
